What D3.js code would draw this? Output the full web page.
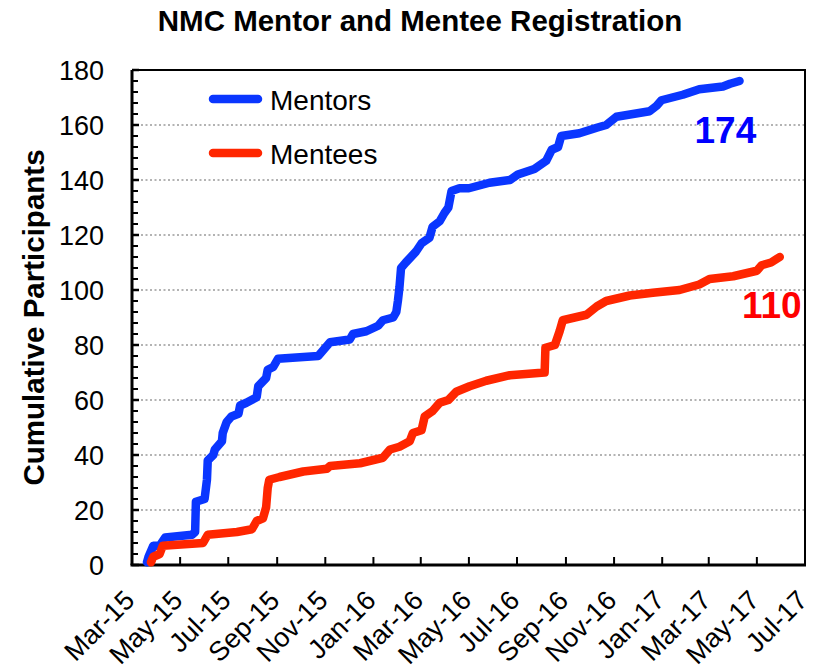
<!DOCTYPE html>
<html>
<head>
<meta charset="utf-8">
<script src="https://cdn.jsdelivr.net/npm/d3@7"></script>
<style>
  body { margin: 0; background: #fff; }
  text { font-family: "Liberation Sans", Arial, sans-serif; }
</style>
</head>
<body>
<div id="my_dataviz"></div>
<script>
// cumulative registrations: [date, running total]
var mentors = [
  ["2015-03-20", 1], ["2015-03-22", 3], ["2015-03-28", 7], ["2015-04-05", 7],
  ["2015-04-12", 10], ["2015-05-16", 11], ["2015-05-20", 12], ["2015-05-21", 23],
  ["2015-06-01", 24], ["2015-06-04", 31], ["2015-06-05", 38], ["2015-06-12", 40],
  ["2015-06-14", 42], ["2015-06-23", 45], ["2015-06-24", 48], ["2015-06-29", 52],
  ["2015-07-05", 54], ["2015-07-14", 55], ["2015-07-16", 58], ["2015-07-24", 59],
  ["2015-08-06", 61], ["2015-08-08", 65], ["2015-08-18", 68], ["2015-08-20", 71],
  ["2015-08-27", 72], ["2015-09-02", 75], ["2015-10-23", 76], ["2015-10-29", 78],
  ["2015-11-07", 81], ["2015-12-02", 82], ["2015-12-06", 84], ["2015-12-23", 85],
  ["2016-01-07", 87], ["2016-01-13", 89], ["2016-01-26", 90], ["2016-01-30", 92],
  ["2016-02-01", 96], ["2016-02-03", 101], ["2016-02-05", 108], ["2016-02-11", 110],
  ["2016-02-24", 114], ["2016-03-02", 117], ["2016-03-12", 119], ["2016-03-16", 123],
  ["2016-03-25", 125], ["2016-03-31", 128], ["2016-04-05", 130], ["2016-04-09", 136],
  ["2016-04-19", 137], ["2016-05-01", 137], ["2016-05-27", 139], ["2016-06-22", 140],
  ["2016-07-02", 142], ["2016-07-23", 144], ["2016-08-07", 147], ["2016-08-14", 151],
  ["2016-08-22", 152], ["2016-08-26", 156], ["2016-09-18", 157], ["2016-10-10", 159],
  ["2016-10-22", 160], ["2016-11-04", 163], ["2016-12-16", 165], ["2016-12-25", 167],
  ["2016-12-31", 169], ["2017-01-27", 171], ["2017-02-17", 173], ["2017-03-19", 174],
  ["2017-03-28", 175], ["2017-04-09", 176]
];

var mentees = [
  ["2015-03-25", 1], ["2015-03-28", 3], ["2015-04-05", 4], ["2015-04-09", 7],
  ["2015-05-30", 8], ["2015-06-05", 11], ["2015-07-12", 12], ["2015-07-31", 13],
  ["2015-08-06", 16], ["2015-08-14", 17], ["2015-08-18", 21], ["2015-08-20", 28],
  ["2015-08-22", 31], ["2015-09-04", 32], ["2015-10-04", 34], ["2015-11-03", 35],
  ["2015-11-07", 36], ["2015-12-15", 37], ["2016-01-13", 39], ["2016-01-22", 42],
  ["2016-02-03", 43], ["2016-02-16", 45], ["2016-02-20", 48], ["2016-03-02", 49],
  ["2016-03-06", 54], ["2016-03-16", 56], ["2016-03-25", 59], ["2016-04-05", 60],
  ["2016-04-15", 63], ["2016-05-02", 65], ["2016-05-23", 67], ["2016-06-22", 69],
  ["2016-08-05", 70], ["2016-08-06", 79], ["2016-08-18", 80], ["2016-08-24", 85],
  ["2016-08-28", 89], ["2016-09-27", 91], ["2016-10-10", 94], ["2016-10-22", 96],
  ["2016-11-21", 98], ["2016-12-20", 99], ["2017-01-23", 100], ["2017-02-17", 102],
  ["2017-03-02", 104], ["2017-04-01", 105], ["2017-05-01", 107], ["2017-05-07", 109],
  ["2017-05-19", 110], ["2017-05-30", 112]
];

var seriesNames = ["Mentors", "Mentees"];
var seriesColors = ["#0a36ff", "#ff2600"];
var totals = [174, 110];
var totalColors = ["#0000ff", "#ff0000"];
var yTicks = [0, 20, 40, 60, 80, 100, 120, 140, 160, 180];

// set the dimensions and margins of the graph
var margin = {top: 70, right: 13, bottom: 106, left: 132},
  width = 818 - margin.left - margin.right,
  height = 671 - margin.top - margin.bottom;

var svg = d3.select("#my_dataviz")
.append("svg")
  .attr("width", width + margin.left + margin.right)
  .attr("height", height + margin.top + margin.bottom)
.append("g")
  .attr("transform", "translate(" + margin.left + "," + margin.top + ")");

var parse = d3.timeParse("%Y-%m-%d");

var x = d3.scaleTime()
  .domain([parse("2015-03-01"), parse("2017-07-01")])
  .range([0, width]);

var y = d3.scaleLinear()
  .domain([0, 180])
  .range([height, 0]);

// dotted gridlines
svg.append("g")
  .selectAll("line")
  .data(yTicks.slice(1))
  .enter()
  .append("line")
    .attr("x1", 0)
    .attr("x2", width)
    .attr("y1", function(d) { return y(d) })
    .attr("y2", function(d) { return y(d) })
    .style("stroke", "#9a9a9a")
    .style("stroke-width", 1.5)
    .style("stroke-dasharray", "2,2.5")

// frame top + right
svg.append("path")
  .attr("d", "M0,0H" + width + "V" + height)
  .style("fill", "none")
  .style("stroke", "#000")
  .style("stroke-width", 2)

// Y axis: major ticks every 20, minor every 4, all pointing inward
svg.append("g")
  .selectAll("line")
  .data(d3.range(0, 181, 4))
  .enter()
  .append("line")
    .attr("x1", 0)
    .attr("x2", function(d) { return d % 20 == 0 ? 7 : 6 })
    .attr("y1", function(d) { return y(d) })
    .attr("y2", function(d) { return y(d) })
    .style("stroke", "#000")
    .style("stroke-width", function(d) { return d % 20 == 0 ? 2.5 : 2 })

svg.append("g")
  .selectAll("text")
  .data(yTicks)
  .enter()
  .append("text")
    .attr("x", -28)
    .attr("y", function(d) { return y(d) })
    .attr("dy", "0.36em")
    .attr("text-anchor", "end")
    .style("font-size", "27px")
    .text(function(d) { return d })

svg.append("line")
  .attr("x1", 0).attr("x2", 0)
  .attr("y1", 0).attr("y2", height)
  .style("stroke", "#000")
  .style("stroke-width", 3)

// X axis: ticks every two months
var xTicks = x.ticks(d3.timeMonth.every(2));
var fmt = d3.timeFormat("%b-%y");

svg.append("g")
  .selectAll("line")
  .data(xTicks)
  .enter()
  .append("line")
    .attr("x1", function(d) { return x(d) })
    .attr("x2", function(d) { return x(d) })
    .attr("y1", height)
    .attr("y2", height - 8)
    .style("stroke", "#000")
    .style("stroke-width", 2)

svg.append("g")
  .selectAll("text")
  .data(xTicks)
  .enter()
  .append("text")
    .attr("transform", function(d) { return "translate(" + (x(d) + 4) + "," + (height + 37) + ") rotate(-45)" })
    .attr("text-anchor", "end")
    .style("font-size", "27px")
    .text(function(d) { return fmt(d) })

svg.append("line")
  .attr("x1", -1.5).attr("x2", width + 1)
  .attr("y1", height).attr("y2", height)
  .style("stroke", "#000")
  .style("stroke-width", 3)

// the two cumulative lines
var line = d3.line()
  .x(function(d) { return x(parse(d[0])) })
  .y(function(d) { return y(d[1]) });

[mentors, mentees].forEach(function(data, i) {
  svg.append("path")
    .datum(data)
    .attr("d", line)
    .style("fill", "none")
    .style("stroke", seriesColors[i])
    .style("stroke-width", 8.5)
    .style("stroke-linecap", "round")
    .style("stroke-linejoin", "round")
});

// legend
var legend = svg.append("g")
  .attr("transform", "translate(81,29)")
seriesNames.forEach(function(name, i) {
  legend.append("line")
    .attr("x1", 0).attr("x2", 45)
    .attr("y1", i * 54).attr("y2", i * 54)
    .style("stroke", seriesColors[i])
    .style("stroke-width", 8.5)
    .style("stroke-linecap", "round")
  legend.append("text")
    .attr("x", 57)
    .attr("y", i * 54 + 11)
    .style("font-size", "28px")
    .text(name)
});

// end-of-line totals
var totalPos = [["2017-02-11", 153.5], ["2017-04-12", 89.8]];
totals.forEach(function(t, i) {
  svg.append("text")
    .attr("x", x(parse(totalPos[i][0])))
    .attr("y", y(totalPos[i][1]))
    .style("font-size", "37px")
    .style("font-weight", "bold")
    .style("fill", totalColors[i])
    .text(t)
});

// title and y label
svg.append("text")
  .attr("x", 420 - margin.left)
  .attr("y", 31 - margin.top)
  .attr("text-anchor", "middle")
  .style("font-size", "29.5px")
  .style("font-weight", "bold")
  .text("NMC Mentor and Mentee Registration");

svg.append("text")
  .attr("transform", "translate(" + (44 - margin.left) + "," + (height / 2) + ") rotate(-90)")
  .attr("text-anchor", "middle")
  .style("font-size", "29.5px")
  .style("font-weight", "bold")
  .text("Cumulative Participants");
</script>
</body>
</html>
